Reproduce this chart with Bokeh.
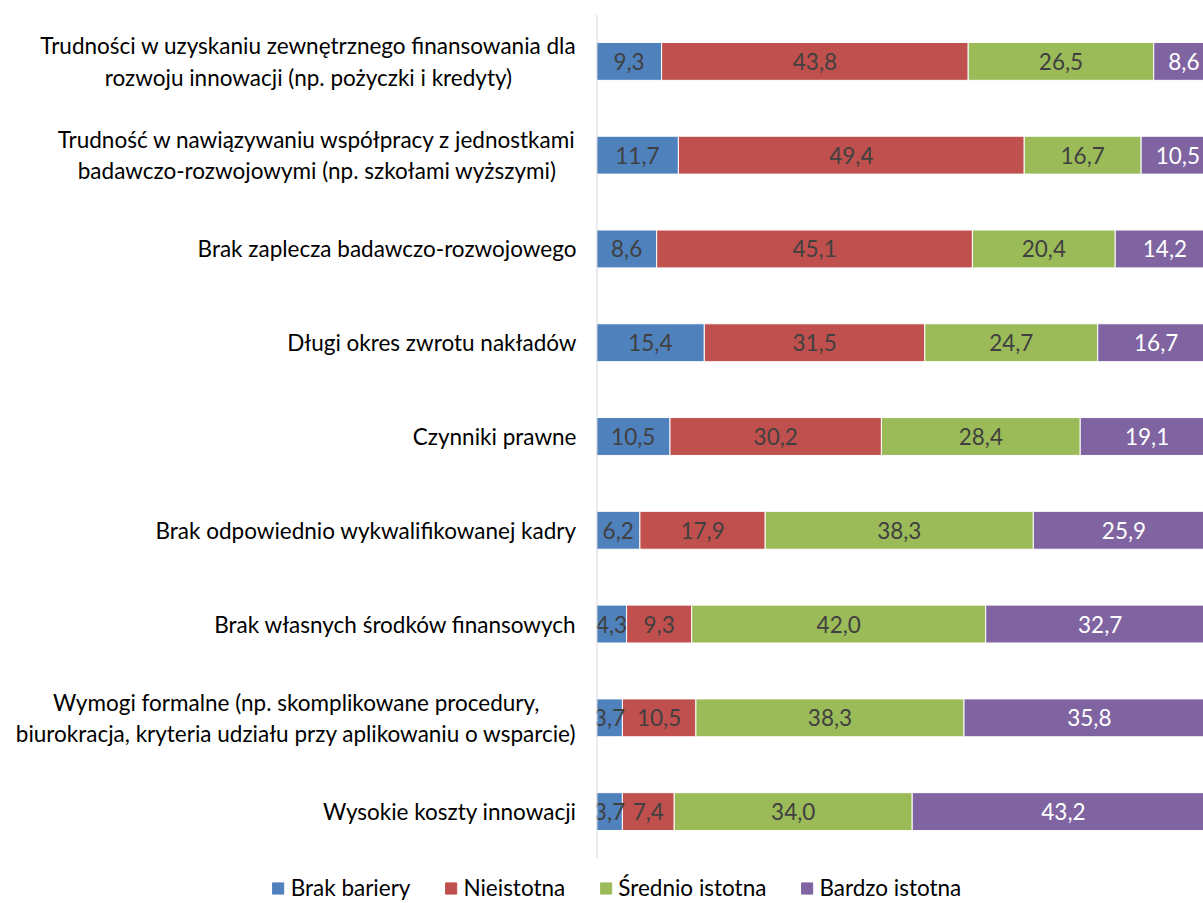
import numpy as np
from bokeh.plotting import figure
from bokeh.layouts import row, column
from bokeh.models import ColumnDataSource, Range1d, FactorRange, Legend, LegendItem, Span
from bokeh.core.properties import value
from bokeh.embed import file_html
from bokeh.resources import INLINE

categories = [
    "Trudności w uzyskaniu zewnętrznego finansowania dla\nrozwoju innowacji (np. pożyczki i kredyty)",
    "Trudność w nawiązywaniu współpracy z jednostkami\nbadawczo-rozwojowymi (np. szkołami wyższymi)",
    "Brak zaplecza badawczo-rozwojowego",
    "Długi okres zwrotu nakładów",
    "Czynniki prawne",
    "Brak odpowiednio wykwalifikowanej kadry",
    "Brak własnych środków finansowych",
    "Wymogi formalne (np. skomplikowane procedury,\nbiurokracja, kryteria udziału przy aplikowaniu o wsparcie)",
    "Wysokie koszty innowacji",
]
series_names = ["Brak bariery", "Nieistotna", "Średnio istotna", "Bardzo istotna"]
brak_bariery = [9.3, 11.7, 8.6, 15.4, 10.5, 6.2, 4.3, 3.7, 3.7]
nieistotna = [43.8, 49.4, 45.1, 31.5, 30.2, 17.9, 9.3, 10.5, 7.4]
srednio_istotna = [26.5, 16.7, 20.4, 24.7, 28.4, 38.3, 42.0, 38.3, 34.0]
bardzo_istotna = [8.6, 10.5, 14.2, 16.7, 19.1, 25.9, 32.7, 35.8, 43.2]

colors = ["#4F81BD", "#C0504D", "#9BBB59", "#8064A2"]
label_colors = ["#404040", "#404040", "#404040", "#FFFFFF"]
FONT = "Lato"
FS = "22.5px"

keys = ["s0", "s1", "s2", "s3"]
data = {"cat": categories}
for k, vals in zip(keys, [brak_bariery, nieistotna, srednio_istotna, bardzo_istotna]):
    data[k] = vals
source = ColumnDataSource(data)

y_range = FactorRange(*list(reversed(categories)), range_padding=0)


def clean(fig):
    fig.xaxis.visible = False
    fig.yaxis.visible = False
    fig.xgrid.visible = False
    fig.ygrid.visible = False
    fig.outline_line_color = None


# ---- left: category labels
left = figure(width=596, height=858, y_range=y_range, x_range=Range1d(0, 596),
              output_backend="svg", toolbar_location=None,
              min_border_left=0, min_border_right=0, min_border_top=14, min_border_bottom=0)
clean(left)
left.text(x=576, y="cat", text="cat", source=source, anchor="center_right",
          text_align="center", text_baseline="middle", text_line_height=1.16,
          text_font=value(FONT), text_font_size=FS, text_color="#000000")

# ---- main: bars
p = figure(width=607, height=858, y_range=y_range, x_range=Range1d(0, 86.71),
           output_backend="svg", toolbar_location=None,
           min_border_left=0, min_border_right=0, min_border_top=14, min_border_bottom=0)
clean(p)
renderers = p.hbar_stack(keys, y="cat", height=0.404, color=colors, source=source,
                         line_color="white", line_width=1)
p.add_layout(Span(location=0, dimension="height", line_color="#D9D9D9", line_width=2))

arrs = np.array([brak_bariery, nieistotna, srednio_istotna, bardzo_istotna])
cum = np.cumsum(arrs, axis=0)
for i in range(4):
    centers = cum[i] - arrs[i] / 2.0
    texts = [f"{v:.1f}".replace(".", ",") for v in arrs[i]]
    lsrc = ColumnDataSource(dict(x=centers, y=categories, t=texts))
    p.text(x="x", y="y", text="t", source=lsrc, text_align="center", text_baseline="middle",
           text_font=value(FONT), text_font_size=FS, text_color=label_colors[i])

# ---- legend strip (proxy glyphs lie outside the visible range)
lg = figure(width=1203, height=45, x_range=Range1d(0, 1), y_range=Range1d(0, 1),
            output_backend="svg", toolbar_location=None,
            min_border_left=29, min_border_right=0, min_border_top=0, min_border_bottom=0)
clean(lg)
proxy = ColumnDataSource(dict(y=[-5], l=[-5], r=[-4]))
dummies = [lg.hbar(y="y", left="l", right="r", height=1, color=c, source=proxy) for c in colors]
legend = Legend(
    items=[LegendItem(label=n, renderers=[r]) for n, r in zip(series_names, dummies)],
    orientation="horizontal", location="bottom_center",
    glyph_width=14, glyph_height=14, label_standoff=6, spacing=33, label_height=14,
    label_text_font=FONT, label_text_font_size=FS, label_text_color="#000000",
    border_line_color=None, background_fill_alpha=0, padding=0, margin=2,
)
lg.add_layout(legend, "center")

layout = column(row(left, p), lg)
open("out.html", "w").write(file_html(layout, INLINE))
